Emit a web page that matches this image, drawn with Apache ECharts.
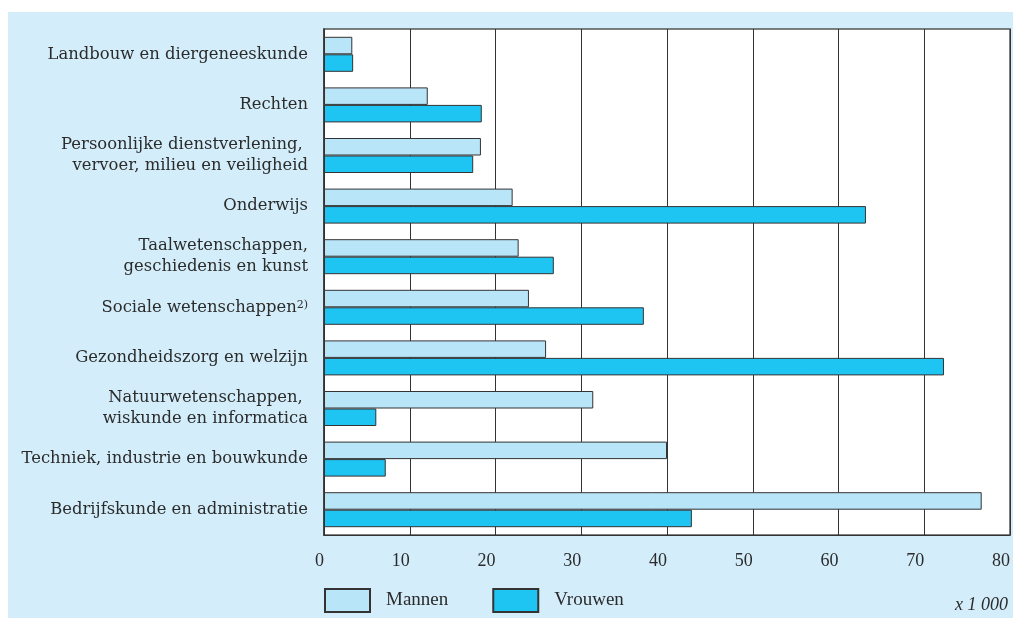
<!DOCTYPE html>
<html>
<head>
<meta charset="utf-8">
<script src="https://cdn.jsdelivr.net/npm/echarts@6/dist/echarts.min.js"></script>
<style>
html,body{margin:0;padding:0;background:#ffffff;}
#chart{width:1013px;height:618px;}
</style>
</head>
<body>
<div id="chart"></div>
<script>
const categories = [
  'Landbouw en diergeneeskunde',
  'Rechten',
  'Persoonlijke dienstverlening, \nvervoer, milieu en veiligheid',
  'Onderwijs',
  'Taalwetenschappen,\ngeschiedenis en kunst',
  'Sociale wetenschappen',
  'Gezondheidszorg en welzijn',
  'Natuurwetenschappen, \nwiskunde en informatica',
  'Techniek, industrie en bouwkunde',
  'Bedrijfskunde en administratie'
];
const footnotes = ['', '', '', '', '', '2)', '', '', '', ''];
const mannen = [3.3, 12.1, 18.3, 22.0, 22.7, 23.9, 25.9, 31.4, 40.0, 76.7];
const vrouwen = [3.4, 18.4, 17.4, 63.2, 26.8, 37.3, 72.3, 6.1, 7.2, 42.9];
const xTicks = [0, 10, 20, 30, 40, 50, 60, 70, 80];
const seriesNames = ['Mannen', 'Vrouwen'];
const unitLabel = 'x 1 000';

const FONT = 'Liberation Serif';
const LFONT = 'DejaVu Serif';
const chart = echarts.init(document.getElementById('chart'), null, {renderer: 'canvas'});
chart.setOption({
  animation: false,
  backgroundColor: '#ffffff',
  graphic: [
    {type: 'rect', z: -100, silent: true, shape: {x: 8, y: 12, width: 1005, height: 606}, style: {fill: '#d3eefa'}},
    {type: 'text', right: 5, top: 596, style: {text: unitLabel, font: 'italic 18px "' + FONT + '"', fill: '#2b2b2b'}}
  ],
  grid: {left: 324, right: 3, top: 29, bottom: 83, show: true, backgroundColor: '#ffffff', borderColor: '#555555', borderWidth: 1.5, containLabel: false},
  legend: {
    data: seriesNames, left: 324, top: 588, itemWidth: 45, itemHeight: 23, itemGap: 44, padding: 0,
    icon: 'rect',
    textStyle: {fontFamily: FONT, fontSize: 19, color: '#2b2b2b', padding: [10, 0, 0, 11]}
  },
  xAxis: {
    type: 'value', min: xTicks[0], max: xTicks[xTicks.length - 1], interval: xTicks[1] - xTicks[0],
    axisLine: {show: true, lineStyle: {color: '#333333', width: 1}},
    axisTick: {show: false},
    splitLine: {show: true, lineStyle: {color: '#333333', width: 1}},
    axisLabel: {align: 'right', margin: 17, fontFamily: FONT, fontSize: 18, color: '#2b2b2b'}
  },
  yAxis: {
    type: 'category', data: categories, inverse: true,
    axisLine: {show: true, lineStyle: {color: '#333333', width: 1.5}},
    axisTick: {show: false},
    splitLine: {show: false},
    axisLabel: {
      margin: 16, fontFamily: LFONT, fontSize: 16.4, color: '#2b2b2b', lineHeight: 21,
      formatter: function (v, i) {
        const fn = footnotes[i];
        if (fn) return '{a|' + v + '}{s|' + fn + '}';
        return v;
      },
      rich: {
        a: {fontFamily: LFONT, fontSize: 16.4, color: '#2b2b2b'},
        s: {fontFamily: LFONT, fontSize: 11, color: '#2b2b2b', padding: [0, 0, 5, 0]}
      }
    }
  },
  series: [
    {name: seriesNames[0], type: 'bar', data: mannen, barWidth: 17.5, barGap: '0%',
     itemStyle: {color: '#b9e5f8', borderColor: '#333333', borderWidth: 1}},
    {name: seriesNames[1], type: 'bar', data: vrouwen, barWidth: 17.5, barGap: '0%',
     itemStyle: {color: '#1fc5f2', borderColor: '#333333', borderWidth: 1}}
  ]
});
</script>
</body>
</html>
